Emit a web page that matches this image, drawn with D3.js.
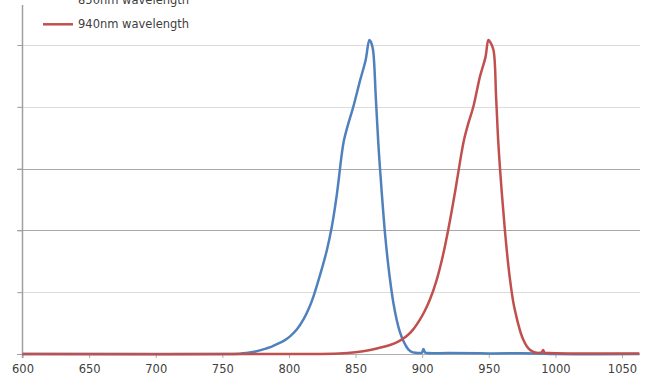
<!DOCTYPE html>
<html><head><meta charset="utf-8">
<script src="https://cdn.jsdelivr.net/npm/d3@7"></script>
<style>html,body{margin:0;padding:0;background:#fff;overflow:hidden}</style>
</head><body>
<svg id="c" width="652" height="379"></svg>
<script>
const xTicks = [600, 650, 700, 750, 800, 850, 900, 950, 1000, 1050];
const yTicks = [0, 0.2, 0.4, 0.6, 0.8, 1.0];
const seriesNames = ["850nm wavelength", "940nm wavelength"];

const blueNm = [600, 700, 750, 763, 768, 775, 780, 786, 793, 797, 801, 806, 811, 815, 818.3, 823.3, 828.4, 832.1, 835.9, 839.6, 841.2, 844.5, 848.3, 853.5, 857.5, 860.4, 861.5, 863.1, 865.2, 867.1, 869.7, 872.1, 874.6, 876.5, 878.4, 880.9, 883, 885.9, 888, 890, 892, 895, 898, 899.8, 900.9, 902.2, 904, 920, 950, 985, 1000, 1063];
const blueVal = [0, 0, 0, 0.001, 0.003, 0.008, 0.014, 0.022, 0.036, 0.045, 0.058, 0.080, 0.113, 0.148, 0.185, 0.255, 0.335, 0.41, 0.515, 0.645, 0.69, 0.745, 0.80, 0.887, 0.95, 1.016, 1.01, 0.984, 0.83, 0.68, 0.52, 0.39, 0.285, 0.22, 0.165, 0.11, 0.075, 0.042, 0.025, 0.013, 0.007, 0.004, 0.003, 0.004, 0.016, 0.005, 0.003, 0.003, 0.002, 0.002, 0, 0];

const redNm = [600, 800, 838, 850, 861, 868, 875.9, 882, 888.4, 893, 898.4, 902, 905.9, 910.9, 915.9, 919.7, 924.7, 929.7, 931.5, 934.5, 938.4, 943.5, 947.5, 949.7, 951, 953.5, 955.5, 957.2, 959.8, 962.2, 964.7, 966.5, 968.5, 970.5, 972.2, 974, 976, 978.5, 981, 983.5, 986, 988.5, 989.8, 990.8, 992, 995, 1010, 1063];
const redVal = [0, 0, 0.002, 0.006, 0.013, 0.02, 0.029, 0.04, 0.058, 0.078, 0.112, 0.14, 0.177, 0.24, 0.325, 0.405, 0.525, 0.655, 0.695, 0.745, 0.80, 0.90, 0.96, 1.016, 1.01, 0.984, 0.83, 0.68, 0.52, 0.395, 0.285, 0.222, 0.165, 0.125, 0.095, 0.068, 0.045, 0.025, 0.013, 0.007, 0.004, 0.004, 0.006, 0.013, 0.004, 0.003, 0.002, 0.002];

const colors = ["#4F81BD", "#C0504D"];
const svg = d3.select("#c");
const x = d3.scaleLinear().domain([600, 1063.5]).range([22.5, 640]);
const y = d3.scaleLinear().domain([0, 1]).range([354, 45]);

// gridlines
svg.append("g").selectAll("line").data(yTicks.filter(d => d > 0)).join("line")
  .attr("x1", 17).attr("x2", 640)
  .attr("y1", d => Math.round(y(d)) + 0.5).attr("y2", d => Math.round(y(d)) + 0.5)
  .attr("stroke", d => (Math.abs(d - 0.4) < 1e-6 || Math.abs(d - 0.6) < 1e-6) ? "#a8a8a8" : "#dcdcdc")
  .attr("stroke-width", 1);

// baseline / x axis
const xAxis = d3.axisBottom(x).tickValues(xTicks).tickSize(4).tickPadding(7).tickFormat(d3.format("d"));
const gx = svg.append("g").attr("transform", "translate(0,354)").call(xAxis);
gx.select(".domain").attr("d", "M17,0.5H640").attr("stroke", "#b0b0b0").attr("stroke-width", 1.2);
gx.selectAll(".tick line").attr("stroke", "#b0b0b0");
gx.selectAll(".tick text").attr("font-family", "DejaVu Sans").attr("font-size", "11.5px").attr("fill", "#404040");

// y axis
const yAxis = d3.axisLeft(y).tickValues(yTicks).tickSize(5).tickFormat("");
const gy = svg.append("g").attr("transform", "translate(22.5,0)").call(yAxis);
gy.select(".domain").attr("d", "M0,5V358").attr("stroke", "#a0a0a0").attr("stroke-width", 1.5);
gy.selectAll(".tick line").attr("stroke", "#a0a0a0");

// lines
const line = d3.line().x(d => x(d[0])).y(d => y(d[1])).curve(d3.curveCatmullRom.alpha(0.5));
const blue = blueNm.map((d, i) => [d, blueVal[i]]);
const red = redNm.map((d, i) => [d, redVal[i]]);
[blue, red].forEach((s, i) => {
  svg.append("path").attr("d", line(s)).attr("fill", "none")
    .attr("stroke", colors[i]).attr("stroke-width", 2.5).attr("stroke-linejoin", "round");
});

// legend
const lg = svg.append("g");
seriesNames.forEach((n, i) => {
  const ly = -0.5 + i * 24.8;
  lg.append("line").attr("x1", 43).attr("x2", 73).attr("y1", i === 0 ? -2 : ly).attr("y2", i === 0 ? -2 : ly)
    .attr("stroke", colors[i]).attr("stroke-width", 2.5);
  lg.append("text").attr("x", 78).attr("y", ly + 4).text(n)
    .attr("font-family", "DejaVu Sans").attr("font-size", "11.5px").attr("fill", "#404040");
});
</script>
</body></html>
